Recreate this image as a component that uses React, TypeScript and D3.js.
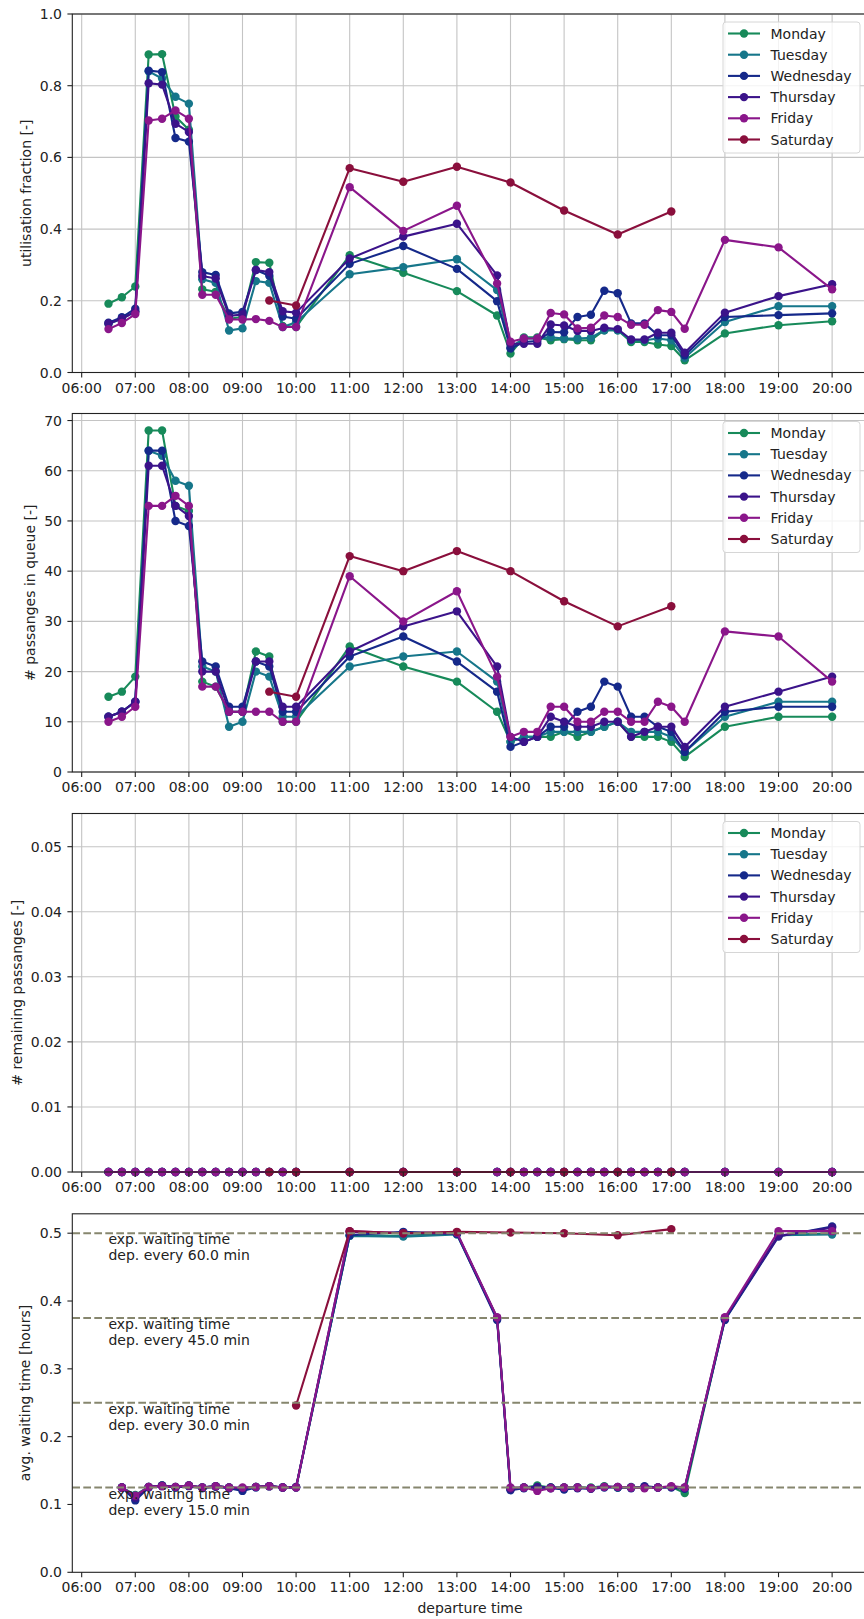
import React from "react";
import * as d3 from "d3";

// ---------------- DATA ----------------
const days = ["Monday", "Tuesday", "Wednesday", "Thursday", "Friday", "Saturday"];
const dayColors = ["#178a5a", "#16768a", "#15298a", "#3b138a", "#8a168a", "#8a0f3c"];

const weekdayTimes = ["06:30","06:45","07:00","07:15","07:30","07:45","08:00","08:15","08:30","08:45","09:00","09:15","09:30","09:45","10:00","11:00","12:00","13:00","13:45","14:00","14:15","14:30","14:45","15:00","15:15","15:30","15:45","16:00","16:15","16:30","16:45","17:00","17:15","18:00","19:00","20:00"];
const saturdayTimes = ["09:30","10:00","11:00","12:00","13:00","14:00","15:00","16:00","17:00"];
const weekdayWaitTimes = ["06:45","07:00","07:15","07:30","07:45","08:00","08:15","08:30","08:45","09:00","09:15","09:30","09:45","10:00","11:00","12:00","13:00","13:45","14:00","14:15","14:30","14:45","15:00","15:15","15:30","15:45","16:00","16:15","16:30","16:45","17:00","17:15","18:00","19:00","20:00"];
const saturdayWaitTimes = ["10:00","11:00","12:00","13:00","14:00","15:00","16:00","17:00"];

// utilisation fraction
const utilMonday = [0.192,0.21,0.24,0.887,0.888,0.714,0.677,0.232,0.225,0.15,0.155,0.308,0.306,0.13,0.127,0.327,0.278,0.227,0.159,0.053,0.098,0.098,0.09,0.093,0.09,0.09,0.118,0.118,0.085,0.085,0.078,0.074,0.034,0.109,0.132,0.143];
const utilTuesday = [0.135,0.15,0.17,0.84,0.82,0.769,0.75,0.26,0.25,0.117,0.123,0.255,0.25,0.127,0.14,0.274,0.294,0.316,0.23,0.07,0.095,0.095,0.098,0.095,0.095,0.097,0.118,0.118,0.09,0.09,0.095,0.09,0.041,0.141,0.185,0.185];
const utilWednesday = [0.139,0.154,0.178,0.842,0.838,0.654,0.644,0.28,0.272,0.165,0.169,0.286,0.27,0.156,0.15,0.303,0.353,0.289,0.199,0.067,0.085,0.088,0.113,0.112,0.155,0.161,0.228,0.221,0.137,0.137,0.104,0.104,0.048,0.155,0.16,0.165];
const utilThursday = [0.137,0.15,0.17,0.807,0.803,0.694,0.671,0.269,0.262,0.158,0.162,0.286,0.28,0.171,0.167,0.318,0.379,0.415,0.271,0.08,0.08,0.08,0.134,0.131,0.116,0.116,0.125,0.121,0.092,0.092,0.111,0.111,0.055,0.167,0.213,0.246];
const utilFriday = [0.121,0.138,0.163,0.703,0.708,0.731,0.708,0.217,0.217,0.148,0.148,0.149,0.144,0.127,0.127,0.517,0.395,0.465,0.248,0.086,0.095,0.095,0.166,0.162,0.123,0.125,0.159,0.155,0.133,0.133,0.174,0.169,0.122,0.37,0.349,0.232];
const utilSaturday = [0.201,0.187,0.57,0.532,0.574,0.53,0.452,0.385,0.449];

// passengers in queue
const queueMonday = [15,16,19,68,68,53,52,18,17,12,12,24,23,10,10,25,21,18,12,6,7,7,7,8,7,8,9,10,7,7,7,6,3,9,11,11];
const queueTuesday = [11,12,14,64,63,58,57,21,20,9,10,20,19,11,11,21,23,24,18,6,7,7,8,8,8,8,9,10,8,8,8,7,4,11,14,14];
const queueWednesday = [11,12,14,64,64,50,49,22,21,13,13,22,21,12,12,23,27,22,16,5,6,7,9,9,12,13,18,17,11,11,9,8,4,12,13,13];
const queueThursday = [11,12,14,61,61,53,51,20,20,12,12,22,22,13,13,24,29,32,21,7,6,7,11,10,9,9,10,10,7,8,9,9,5,13,16,19];
const queueFriday = [10,11,13,53,53,55,53,17,17,12,12,12,12,10,10,39,30,36,19,7,8,8,13,13,10,10,12,12,10,10,14,13,10,28,27,18];
const queueSaturday = [16,15,43,40,44,40,34,29,33];

// remaining passengers
const remainMonday = [0,0,0,0,0,0,0,0,0,0,0,0,0,0,0,0,0,0,0,0,0,0,0,0,0,0,0,0,0,0,0,0,0,0,0,0];
const remainTuesday = [0,0,0,0,0,0,0,0,0,0,0,0,0,0,0,0,0,0,0,0,0,0,0,0,0,0,0,0,0,0,0,0,0,0,0,0];
const remainWednesday = [0,0,0,0,0,0,0,0,0,0,0,0,0,0,0,0,0,0,0,0,0,0,0,0,0,0,0,0,0,0,0,0,0,0,0,0];
const remainThursday = [0,0,0,0,0,0,0,0,0,0,0,0,0,0,0,0,0,0,0,0,0,0,0,0,0,0,0,0,0,0,0,0,0,0,0,0];
const remainFriday = [0,0,0,0,0,0,0,0,0,0,0,0,0,0,0,0,0,0,0,0,0,0,0,0,0,0,0,0,0,0,0,0,0,0,0,0];
const remainSaturday = [0,0,0,0,0,0,0,0,0];

// average waiting time [hours]
const waitMonday = [0.125,0.114,0.126,0.128,0.126,0.128,0.125,0.127,0.125,0.124,0.126,0.127,0.125,0.126,0.497,0.496,0.5,0.375,0.124,0.125,0.128,0.125,0.125,0.125,0.125,0.127,0.125,0.125,0.125,0.125,0.126,0.117,0.374,0.497,0.5];
const waitTuesday = [0.125,0.113,0.126,0.128,0.125,0.128,0.125,0.127,0.125,0.123,0.126,0.127,0.125,0.125,0.496,0.495,0.498,0.374,0.123,0.125,0.126,0.125,0.124,0.125,0.124,0.126,0.125,0.126,0.125,0.125,0.126,0.124,0.373,0.497,0.498];
const waitWednesday = [0.125,0.106,0.125,0.127,0.125,0.127,0.124,0.126,0.124,0.12,0.125,0.127,0.125,0.125,0.497,0.502,0.499,0.372,0.121,0.124,0.125,0.124,0.122,0.124,0.123,0.125,0.125,0.124,0.127,0.125,0.125,0.123,0.372,0.495,0.51];
const waitThursday = [0.125,0.11,0.126,0.128,0.126,0.128,0.125,0.127,0.125,0.124,0.126,0.127,0.125,0.126,0.502,0.5,0.5,0.375,0.123,0.125,0.126,0.125,0.125,0.125,0.124,0.126,0.126,0.125,0.126,0.125,0.126,0.125,0.375,0.496,0.508];
const waitFriday = [0.125,0.113,0.126,0.127,0.126,0.128,0.125,0.127,0.125,0.125,0.126,0.127,0.125,0.125,0.503,0.5,0.501,0.376,0.125,0.125,0.12,0.124,0.125,0.125,0.124,0.126,0.126,0.125,0.124,0.125,0.127,0.125,0.376,0.503,0.503];
const waitSaturday = [0.246,0.503,0.5,0.502,0.501,0.5,0.497,0.506];

// expected waiting time reference lines
const refWaitHours = [0.5, 0.375, 0.25, 0.125];
const refIntervalLabels = ["60.0", "45.0", "30.0", "15.0"];

// axis ticks
const xTickHours = ["06:00","07:00","08:00","09:00","10:00","11:00","12:00","13:00","14:00","15:00","16:00","17:00","18:00","19:00","20:00"];
const utilTicks = [0, 0.2, 0.4, 0.6, 0.8, 1.0];
const queueTicks = [0, 10, 20, 30, 40, 50, 60, 70];
const remainTicks = [0, 0.01, 0.02, 0.03, 0.04, 0.05];
const waitTicks = [0, 0.1, 0.2, 0.3, 0.4, 0.5];

// ---------------- LAYOUT ----------------
const FONT = "'DejaVu Sans', sans-serif";
const FS = 14;
const LEFT = 72.3;
const RIGHT = 868.3;
const PANEL_H = 358.5;
const TOPS = [14, 413.5, 813.5, 1213.8];

const toHours = (s: string) => {
  const [h, m] = s.split(":").map(Number);
  return h + m / 60;
};

const x = d3.scaleLinear().domain([5.825, 20.675]).range([LEFT, RIGHT]);

type Series = { name: string; color: string; times: string[]; values: number[] };

function makeSeries(times: string[][], vals: number[][]): Series[] {
  return days.map((d, i) => ({ name: d, color: dayColors[i], times: times[i], values: vals[i] }));
}

const wk = weekdayTimes;
const wkW = weekdayWaitTimes;

const utilSeries = makeSeries([wk, wk, wk, wk, wk, saturdayTimes], [utilMonday, utilTuesday, utilWednesday, utilThursday, utilFriday, utilSaturday]);
const queueSeries = makeSeries([wk, wk, wk, wk, wk, saturdayTimes], [queueMonday, queueTuesday, queueWednesday, queueThursday, queueFriday, queueSaturday]);
const remainSeries = makeSeries([wk, wk, wk, wk, wk, saturdayTimes], [remainMonday, remainTuesday, remainWednesday, remainThursday, remainFriday, remainSaturday]);
const waitSeries = makeSeries([wkW, wkW, wkW, wkW, wkW, saturdayWaitTimes], [waitMonday, waitTuesday, waitWednesday, waitThursday, waitFriday, waitSaturday]);

type PanelProps = {
  top: number;
  yMax: number;
  yTicks: number[];
  fmt: (v: number) => string;
  ylabel: string;
  labelX: number;
  series: Series[];
  grid: boolean;
  legend: boolean;
  refs?: boolean;
};

function Panel({ top, yMax, yTicks, fmt, ylabel, labelX, series, grid, legend, refs }: PanelProps) {
  const bottom = top + PANEL_H;
  const y = d3.scaleLinear().domain([0, yMax]).range([bottom, top]);
  const line = d3
    .line<[number, number]>()
    .x((d) => x(d[0]))
    .y((d) => y(d[1]));

  const legTop = top + 8;
  const rowH = 21.2;
  return (
    <g>
      {grid &&
        xTickHours.map((t) => (
          <line key={"gx" + t} x1={x(toHours(t))} x2={x(toHours(t))} y1={top} y2={bottom} stroke="#c4c4c4" strokeWidth={1.1} />
        ))}
      {grid &&
        yTicks.map((v) => (
          <line key={"gy" + v} x1={LEFT} x2={RIGHT} y1={y(v)} y2={y(v)} stroke="#c4c4c4" strokeWidth={1.1} />
        ))}
      {/* data */}
      {series.map((s) => {
        const pts: [number, number][] = s.times.map((t, i) => [toHours(t), s.values[i]]);
        return (
          <g key={s.name}>
            <path d={line(pts) || ""} fill="none" stroke={s.color} strokeWidth={2.1} strokeLinejoin="round" />
            {pts.map((p, i) => (
              <circle key={i} cx={x(p[0])} cy={y(p[1])} r={4.2} fill={s.color} />
            ))}
          </g>
        );
      })}
      {refs &&
        refWaitHours.map((v, i) => (
          <g key={"ref" + i}>
            <line x1={LEFT} x2={RIGHT} y1={y(v)} y2={y(v)} stroke="#86866e" strokeWidth={2.1} strokeDasharray="7.7 3.3" />
            <text x={x(6.5)} y={y(v) + 11} fontFamily={FONT} fontSize={FS} fill="#222">
              exp. waiting time
            </text>
            <text x={x(6.5)} y={y(v) + 27} fontFamily={FONT} fontSize={FS} fill="#222">
              {`dep. every ${refIntervalLabels[i]} min`}
            </text>
          </g>
        ))}
      {/* spines */}
      <rect x={LEFT} y={top} width={RIGHT - LEFT} height={PANEL_H} fill="none" stroke="#222" strokeWidth={1.1} />
      {/* x ticks */}
      {xTickHours.map((t) => (
        <g key={"xt" + t}>
          <line x1={x(toHours(t))} x2={x(toHours(t))} y1={bottom} y2={bottom + 4.9} stroke="#222" strokeWidth={1.1} />
          <text x={x(toHours(t))} y={bottom + 20} textAnchor="middle" fontFamily={FONT} fontSize={FS} fill="#222">
            {t}
          </text>
        </g>
      ))}
      {/* y ticks */}
      {yTicks.map((v) => (
        <g key={"yt" + v}>
          <line x1={LEFT - 4.9} x2={LEFT} y1={y(v)} y2={y(v)} stroke="#222" strokeWidth={1.1} />
          <text x={62} y={y(v) + 5} textAnchor="end" fontFamily={FONT} fontSize={FS} fill="#222">
            {fmt(v)}
          </text>
        </g>
      ))}
      <text
        transform={`translate(${labelX},${(top + bottom) / 2}) rotate(-90)`}
        textAnchor="middle"
        dy="0.35em"
        fontFamily={FONT}
        fontSize={FS}
        fill="#222"
      >
        {ylabel}
      </text>
      {legend && (
        <g>
          <rect x={723} y={legTop} width={137} height={131} rx={3} fill="#ffffff" fillOpacity={0.8} stroke="#d6d6d6" strokeWidth={1} />
          {series.map((s, i) => {
            const cy = legTop + 11.5 + i * rowH;
            return (
              <g key={"lg" + s.name}>
                <line x1={728} x2={760} y1={cy} y2={cy} stroke={s.color} strokeWidth={2.1} />
                <circle cx={744} cy={cy} r={4.2} fill={s.color} />
                <text x={770.5} y={cy + 5} fontFamily={FONT} fontSize={FS} fill="#222">
                  {s.name}
                </text>
              </g>
            );
          })}
        </g>
      )}
    </g>
  );
}

export default function App() {
  return (
    <svg
      width={864}
      height={1619}
      style={{ position: "absolute", left: 0, top: 0, background: "#fff" }}
      xmlns="http://www.w3.org/2000/svg"
    >
      <rect x={0} y={0} width={864} height={1619} fill="#fff" />
      <Panel
        top={TOPS[0]}
        yMax={1.0}
        yTicks={utilTicks}
        fmt={(v) => v.toFixed(1)}
        ylabel="utilisation fraction [-]"
        labelX={26}
        series={utilSeries}
        grid
        legend
      />
      <Panel
        top={TOPS[1]}
        yMax={71.4}
        yTicks={queueTicks}
        fmt={(v) => String(v)}
        ylabel="# passanges in queue [-]"
        labelX={30.5}
        series={queueSeries}
        grid
        legend
      />
      <Panel
        top={TOPS[2]}
        yMax={0.0551}
        yTicks={remainTicks}
        fmt={(v) => v.toFixed(2)}
        ylabel="# remaining passanges [-]"
        labelX={17.5}
        series={remainSeries}
        grid
        legend
      />
      <Panel
        top={TOPS[3]}
        yMax={0.5286}
        yTicks={waitTicks}
        fmt={(v) => v.toFixed(1)}
        ylabel="avg. waiting time [hours]"
        labelX={25.5}
        series={waitSeries}
        grid={false}
        legend={false}
        refs
      />
      <text x={470} y={1613} textAnchor="middle" fontFamily={FONT} fontSize={FS} fill="#222">
        departure time
      </text>
    </svg>
  );
}
